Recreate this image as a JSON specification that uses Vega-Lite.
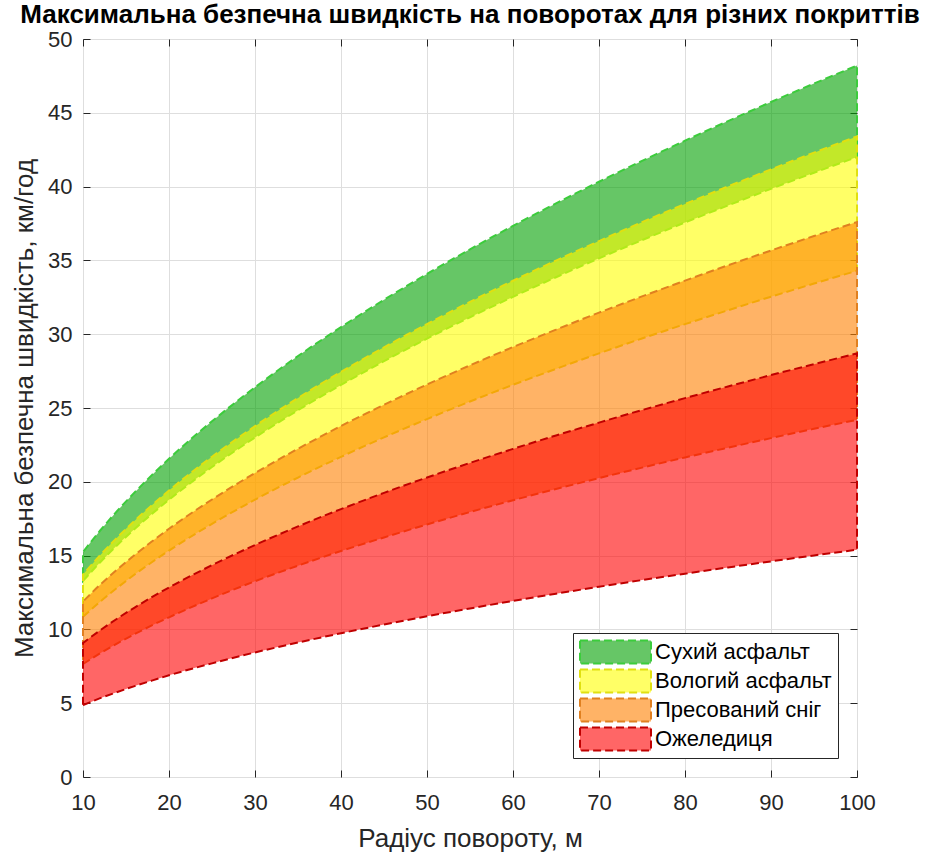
{
  "$schema": "https://vega.github.io/schema/vega-lite/v6.json",
  "width": 774,
  "height": 738,
  "autosize": {"type": "none"},
  "padding": {"left": 83, "top": 39, "right": 73, "bottom": 75},
  "background": "white",
  "config": {
    "font": "Liberation Sans",
    "view": {"stroke": "#262626", "strokeWidth": 1},
    "axis": {
      "labelFont": "Liberation Sans",
      "labelFontSize": 22,
      "labelColor": "#262626",
      "labelFlush": false,
      "titleFont": "Liberation Sans",
      "titleFontSize": 26,
      "titleFontWeight": "normal",
      "titleColor": "#262626",
      "tickColor": "#262626",
      "tickSize": -7,
      "domain": false,
      "gridColor": "#dedede",
      "gridWidth": 1
    }
  },
  "title": {
    "text": "Максимальна безпечна швидкість на поворотах для різних покриттів",
    "font": "Liberation Sans",
    "fontSize": 26,
    "fontWeight": "bold",
    "color": "#000000",
    "anchor": "middle",
    "offset": 0
  },
  "data": {
    "values": [
      {"r": 10, "s": "Сухий асфальт", "lo": 13.28, "hi": 15.24},
      {"r": 12, "s": "Сухий асфальт", "lo": 14.55, "hi": 16.70},
      {"r": 14, "s": "Сухий асфальт", "lo": 15.72, "hi": 18.04},
      {"r": 16, "s": "Сухий асфальт", "lo": 16.80, "hi": 19.28},
      {"r": 18, "s": "Сухий асфальт", "lo": 17.82, "hi": 20.45},
      {"r": 20, "s": "Сухий асфальт", "lo": 18.78, "hi": 21.56},
      {"r": 25, "s": "Сухий асфальт", "lo": 21.00, "hi": 24.10},
      {"r": 30, "s": "Сухий асфальт", "lo": 23.00, "hi": 26.40},
      {"r": 35, "s": "Сухий асфальт", "lo": 24.85, "hi": 28.52},
      {"r": 40, "s": "Сухий асфальт", "lo": 26.56, "hi": 30.48},
      {"r": 45, "s": "Сухий асфальт", "lo": 28.17, "hi": 32.33},
      {"r": 50, "s": "Сухий асфальт", "lo": 29.70, "hi": 34.08},
      {"r": 55, "s": "Сухий асфальт", "lo": 31.15, "hi": 35.75},
      {"r": 60, "s": "Сухий асфальт", "lo": 32.53, "hi": 37.34},
      {"r": 65, "s": "Сухий асфальт", "lo": 33.86, "hi": 38.86},
      {"r": 70, "s": "Сухий асфальт", "lo": 35.14, "hi": 40.33},
      {"r": 75, "s": "Сухий асфальт", "lo": 36.37, "hi": 41.74},
      {"r": 80, "s": "Сухий асфальт", "lo": 37.57, "hi": 43.11},
      {"r": 85, "s": "Сухий асфальт", "lo": 38.72, "hi": 44.44},
      {"r": 90, "s": "Сухий асфальт", "lo": 39.85, "hi": 45.73},
      {"r": 95, "s": "Сухий асфальт", "lo": 40.94, "hi": 46.98},
      {"r": 100, "s": "Сухий асфальт", "lo": 42.00, "hi": 48.20},
      {"r": 10, "s": "Вологий асфальт", "lo": 10.85, "hi": 13.72},
      {"r": 12, "s": "Вологий асфальт", "lo": 11.88, "hi": 15.03},
      {"r": 14, "s": "Вологий асфальт", "lo": 12.83, "hi": 16.24},
      {"r": 16, "s": "Вологий асфальт", "lo": 13.72, "hi": 17.36},
      {"r": 18, "s": "Вологий асфальт", "lo": 14.55, "hi": 18.41},
      {"r": 20, "s": "Вологий асфальт", "lo": 15.34, "hi": 19.41},
      {"r": 25, "s": "Вологий асфальт", "lo": 17.15, "hi": 21.70},
      {"r": 30, "s": "Вологий асфальт", "lo": 18.79, "hi": 23.77},
      {"r": 35, "s": "Вологий асфальт", "lo": 20.29, "hi": 25.68},
      {"r": 40, "s": "Вологий асфальт", "lo": 21.69, "hi": 27.45},
      {"r": 45, "s": "Вологий асфальт", "lo": 23.01, "hi": 29.11},
      {"r": 50, "s": "Вологий асфальт", "lo": 24.25, "hi": 30.69},
      {"r": 55, "s": "Вологий асфальт", "lo": 25.44, "hi": 32.19},
      {"r": 60, "s": "Вологий асфальт", "lo": 26.57, "hi": 33.62},
      {"r": 65, "s": "Вологий асфальт", "lo": 27.65, "hi": 34.99},
      {"r": 70, "s": "Вологий асфальт", "lo": 28.70, "hi": 36.31},
      {"r": 75, "s": "Вологий асфальт", "lo": 29.71, "hi": 37.59},
      {"r": 80, "s": "Вологий асфальт", "lo": 30.68, "hi": 38.82},
      {"r": 85, "s": "Вологий асфальт", "lo": 31.62, "hi": 40.01},
      {"r": 90, "s": "Вологий асфальт", "lo": 32.54, "hi": 41.17},
      {"r": 95, "s": "Вологий асфальт", "lo": 33.43, "hi": 42.30},
      {"r": 100, "s": "Вологий асфальт", "lo": 34.30, "hi": 43.40},
      {"r": 10, "s": "Пресований сніг", "lo": 7.65, "hi": 11.89},
      {"r": 12, "s": "Пресований сніг", "lo": 8.38, "hi": 13.03},
      {"r": 14, "s": "Пресований сніг", "lo": 9.06, "hi": 14.07},
      {"r": 16, "s": "Пресований сніг", "lo": 9.68, "hi": 15.04},
      {"r": 18, "s": "Пресований сніг", "lo": 10.27, "hi": 15.95},
      {"r": 20, "s": "Пресований сніг", "lo": 10.82, "hi": 16.82},
      {"r": 25, "s": "Пресований сніг", "lo": 12.10, "hi": 18.80},
      {"r": 30, "s": "Пресований сніг", "lo": 13.26, "hi": 20.59},
      {"r": 35, "s": "Пресований сніг", "lo": 14.32, "hi": 22.24},
      {"r": 40, "s": "Пресований сніг", "lo": 15.31, "hi": 23.78},
      {"r": 45, "s": "Пресований сніг", "lo": 16.23, "hi": 25.22},
      {"r": 50, "s": "Пресований сніг", "lo": 17.11, "hi": 26.59},
      {"r": 55, "s": "Пресований сніг", "lo": 17.95, "hi": 27.89},
      {"r": 60, "s": "Пресований сніг", "lo": 18.75, "hi": 29.13},
      {"r": 65, "s": "Пресований сніг", "lo": 19.51, "hi": 30.31},
      {"r": 70, "s": "Пресований сніг", "lo": 20.25, "hi": 31.46},
      {"r": 75, "s": "Пресований сніг", "lo": 20.96, "hi": 32.56},
      {"r": 80, "s": "Пресований сніг", "lo": 21.65, "hi": 33.63},
      {"r": 85, "s": "Пресований сніг", "lo": 22.31, "hi": 34.67},
      {"r": 90, "s": "Пресований сніг", "lo": 22.96, "hi": 35.67},
      {"r": 95, "s": "Пресований сніг", "lo": 23.59, "hi": 36.65},
      {"r": 100, "s": "Пресований сніг", "lo": 24.20, "hi": 37.60},
      {"r": 10, "s": "Ожеледиця", "lo": 4.87, "hi": 9.08},
      {"r": 12, "s": "Ожеледиця", "lo": 5.34, "hi": 9.94},
      {"r": 14, "s": "Ожеледиця", "lo": 5.76, "hi": 10.74},
      {"r": 16, "s": "Ожеледиця", "lo": 6.16, "hi": 11.48},
      {"r": 18, "s": "Ожеледиця", "lo": 6.53, "hi": 12.18},
      {"r": 20, "s": "Ожеледиця", "lo": 6.89, "hi": 12.84},
      {"r": 25, "s": "Ожеледиця", "lo": 7.70, "hi": 14.35},
      {"r": 30, "s": "Ожеледиця", "lo": 8.44, "hi": 15.72},
      {"r": 35, "s": "Ожеледиця", "lo": 9.11, "hi": 16.98},
      {"r": 40, "s": "Ожеледиця", "lo": 9.74, "hi": 18.15},
      {"r": 45, "s": "Ожеледиця", "lo": 10.33, "hi": 19.25},
      {"r": 50, "s": "Ожеледиця", "lo": 10.89, "hi": 20.29},
      {"r": 55, "s": "Ожеледиця", "lo": 11.42, "hi": 21.28},
      {"r": 60, "s": "Ожеледиця", "lo": 11.93, "hi": 22.23},
      {"r": 65, "s": "Ожеледиця", "lo": 12.42, "hi": 23.14},
      {"r": 70, "s": "Ожеледиця", "lo": 12.89, "hi": 24.01},
      {"r": 75, "s": "Ожеледиця", "lo": 13.34, "hi": 24.86},
      {"r": 80, "s": "Ожеледиця", "lo": 13.77, "hi": 25.67},
      {"r": 85, "s": "Ожеледиця", "lo": 14.20, "hi": 26.46},
      {"r": 90, "s": "Ожеледиця", "lo": 14.61, "hi": 27.23},
      {"r": 95, "s": "Ожеледиця", "lo": 15.01, "hi": 27.97},
      {"r": 100, "s": "Ожеледиця", "lo": 15.40, "hi": 28.70}
    ]
  },
  "layer": [
    {
      "mark": {
        "type": "area",
        "interpolate": "monotone",
        "fillOpacity": 0.6,
        "strokeOpacity": 1,
        "strokeWidth": 2,
        "strokeDash": [8, 4]
      },
      "encoding": {
        "x": {
          "field": "r",
          "type": "quantitative",
          "scale": {"domain": [10, 100], "nice": false, "zero": false},
          "axis": {
            "orient": "bottom",
            "values": [10, 20, 30, 40, 50, 60, 70, 80, 90, 100],
            "title": "Радіус повороту, м",
            "grid": true,
            "labelPadding": 22,
            "titlePadding": 12
          }
        },
        "y": {
          "field": "lo",
          "type": "quantitative",
          "scale": {"domain": [0, 50], "nice": false},
          "axis": {
            "orient": "left",
            "values": [0, 5, 10, 15, 20, 25, 30, 35, 40, 45, 50],
            "title": "Максимальна безпечна швидкість, км/год",
            "grid": true,
            "labelPadding": 18,
            "titlePadding": 10
          }
        },
        "y2": {"field": "hi"},
        "fill": {
          "field": "s",
          "type": "nominal",
          "sort": null,
          "scale": {
            "domain": ["Сухий асфальт", "Вологий асфальт", "Пресований сніг", "Ожеледиця"],
            "range": ["#00a000", "#ffff00", "#ff8000", "#ff0000"]
          },
          "legend": {
            "title": null,
            "orient": "bottom-right",
            "offset": 19,
            "symbolType": "M-2.96,-0.96H2.96V0.96H-2.96Z",
            "symbolSize": 576,
            "symbolOffset": 23.5,
            "symbolStrokeWidth": 2,
            "symbolDash": [8, 4],
            "labelFont": "Liberation Sans",
            "labelFontSize": 22,
            "labelLimit": 400,
            "labelColor": "#000000",
            "labelOffset": 26.5,
            "clipHeight": 26,
            "rowPadding": 3,
            "padding": 6,
            "strokeColor": "#262626",
            "fillColor": "white",
            "encode": {
              "symbols": {"update": {"fillOpacity": {"value": 0.6}, "strokeOpacity": {"value": 1}}}
            }
          }
        },
        "stroke": {
          "field": "s",
          "type": "nominal",
          "sort": null,
          "scale": {
            "domain": ["Сухий асфальт", "Вологий асфальт", "Пресований сніг", "Ожеледиця"],
            "range": ["#3ccc3c", "#e0e010", "#e08020", "#c00000"]
          },
          "legend": {
            "title": null,
            "orient": "bottom-right",
            "offset": 19,
            "symbolType": "M-2.96,-0.96H2.96V0.96H-2.96Z",
            "symbolSize": 576,
            "symbolOffset": 23.5,
            "symbolStrokeWidth": 2,
            "symbolDash": [8, 4],
            "labelFont": "Liberation Sans",
            "labelFontSize": 22,
            "labelLimit": 400,
            "labelColor": "#000000",
            "labelOffset": 26.5,
            "clipHeight": 26,
            "rowPadding": 3,
            "padding": 6,
            "strokeColor": "#262626",
            "fillColor": "white"
          }
        }
      }
    },
    {
      "mark": {"type": "point", "opacity": 0},
      "encoding": {
        "x": {
          "field": "r",
          "type": "quantitative",
          "axis": {
            "orient": "top",
            "values": [10, 20, 30, 40, 50, 60, 70, 80, 90, 100],
            "labels": false,
            "title": null,
            "grid": false
          }
        },
        "y": {
          "field": "hi",
          "type": "quantitative",
          "axis": {
            "orient": "right",
            "values": [0, 5, 10, 15, 20, 25, 30, 35, 40, 45, 50],
            "labels": false,
            "title": null,
            "grid": false
          }
        }
      }
    }
  ],
  "resolve": {"axis": {"x": "independent", "y": "independent"}}
}
